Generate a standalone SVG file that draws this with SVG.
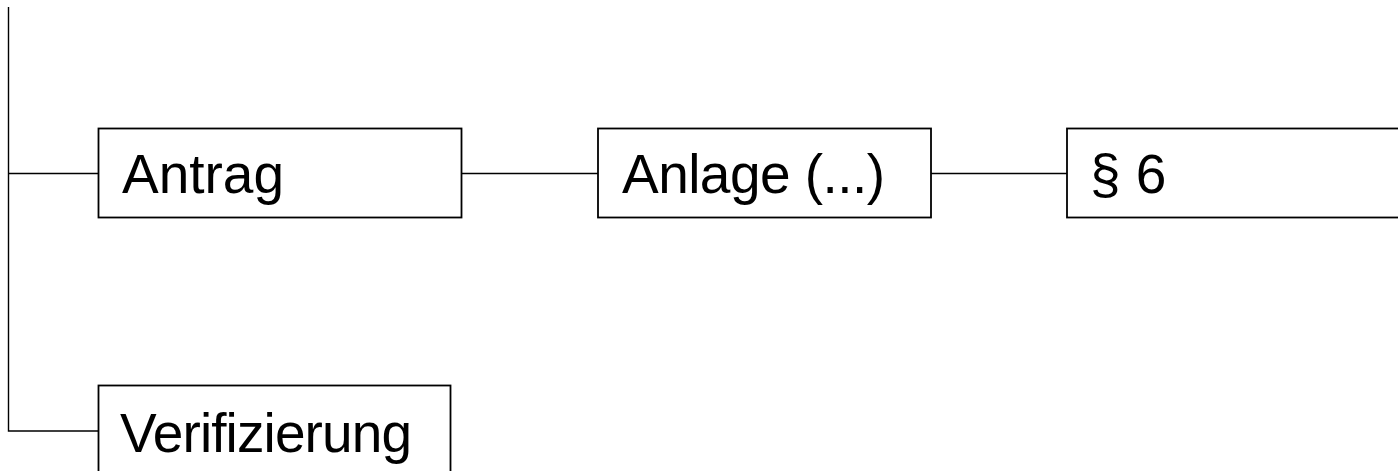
<svg xmlns="http://www.w3.org/2000/svg" width="1398" height="471" viewBox="0 0 1398 471">
<style>
.box{fill:#fff;stroke:#000;stroke-width:1.8}
.ln{fill:none;stroke:#000;stroke-width:1.4}
.t{font-family:"Liberation Sans",Arial,sans-serif;font-size:55px;fill:#000}
</style>
<rect width="1398" height="471" fill="#fff"/>
<g id="connectors">
<path class="ln" d="M8.5,7 V431 H98.5"/>
<path class="ln" d="M8.5,173.5 H98.5"/>
<path class="ln" d="M462,173.5 H598"/>
<path class="ln" d="M931,173.5 H1067"/>
</g>
<g id="antrag">
<rect class="box" x="98.5" y="128.5" width="363" height="89"/>
<text class="t" x="122" y="193">Antrag</text>
</g>
<g id="anlage">
<rect class="box" x="598" y="128.5" width="333" height="89"/>
<text class="t" x="622" y="193" textLength="263" lengthAdjust="spacing">Anlage (...)</text>
</g>
<g id="p6">
<rect class="box" x="1067" y="128.5" width="340" height="89"/>
<text class="t" x="1090" y="193">§ 6</text>
</g>
<g id="verifizierung">
<rect class="box" x="98.5" y="385.5" width="352" height="100"/>
<text class="t" x="120" y="452" textLength="292" lengthAdjust="spacing">Verifizierung</text>
</g>
</svg>
